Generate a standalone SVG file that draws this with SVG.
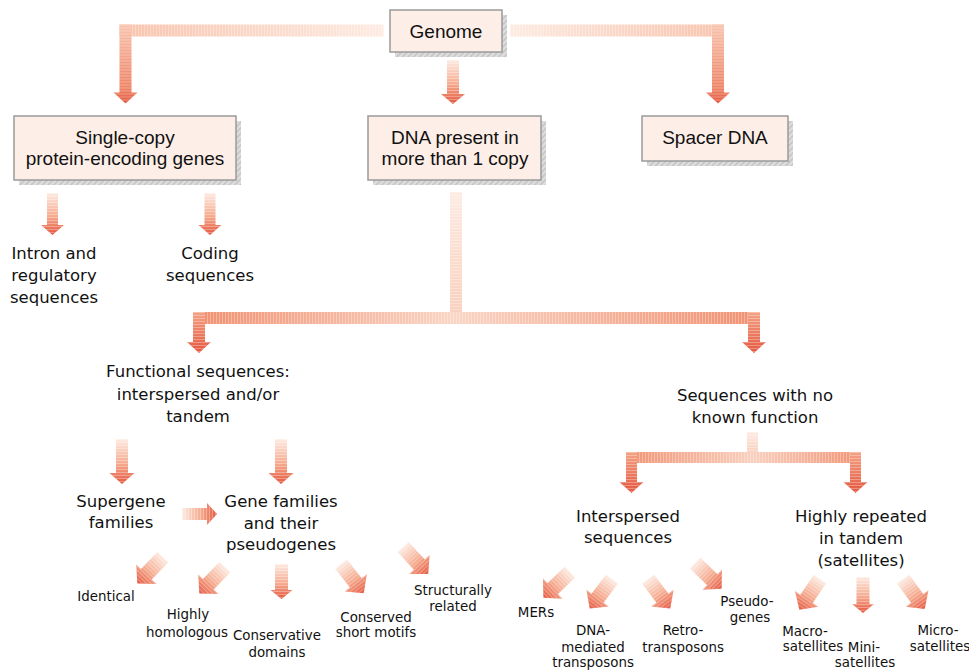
<svg xmlns="http://www.w3.org/2000/svg" xmlns:xlink="http://www.w3.org/1999/xlink" width="969" height="670" viewBox="0 0 969 670">
<style>
.box{fill:#fdeee7;stroke:#9a9a9a;stroke-width:1.5}
.shadow{fill:url(#hatch)}
.bt{font-family:"Liberation Sans",Arial,sans-serif;font-size:19px;fill:#111;text-anchor:middle}
.lb{font-family:"DejaVu Sans",Verdana,sans-serif;font-size:16.5px;fill:#111;text-anchor:middle}
.sm{font-family:"DejaVu Sans",Verdana,sans-serif;font-size:13.4px;fill:#111;text-anchor:middle}
.st{fill:url(#stH)}
.sv{fill:url(#stV)}
</style>
<defs>
<pattern id="hatch" patternUnits="userSpaceOnUse" width="4" height="4" patternTransform="rotate(45)">
<rect width="4" height="4" fill="#dedede"/><rect width="1.5" height="4" fill="#c2c2c2"/>
</pattern>
<pattern id="stH" patternUnits="userSpaceOnUse" width="4" height="3"><rect width="4" height="1" fill="#fff" fill-opacity="0.3"/></pattern>
<pattern id="stV" patternUnits="userSpaceOnUse" width="3" height="4"><rect width="1" height="4" fill="#fff" fill-opacity="0.3"/></pattern>
<linearGradient id="gDown" x1="0" y1="0" x2="0" y2="1">
<stop offset="0" stop-color="#fdebe2"/><stop offset="0.55" stop-color="#f5aa8e"/><stop offset="1" stop-color="#e4573f"/>
</linearGradient>
<linearGradient id="gLow" x1="0" y1="0" x2="0" y2="1">
<stop offset="0" stop-color="#f4a386"/><stop offset="1" stop-color="#e4573f"/>
</linearGradient>
<linearGradient id="gTopV" x1="0" y1="0" x2="0" y2="1">
<stop offset="0" stop-color="#f8c4ae"/><stop offset="0.8" stop-color="#ee8466"/><stop offset="1" stop-color="#e4573f"/>
</linearGradient>
<linearGradient id="gTLh" x1="1" y1="0" x2="0" y2="0">
<stop offset="0" stop-color="#fdebe2"/><stop offset="1" stop-color="#f8c4ae"/>
</linearGradient>
<linearGradient id="gTRh" x1="0" y1="0" x2="1" y2="0">
<stop offset="0" stop-color="#fdebe2"/><stop offset="1" stop-color="#f8c4ae"/>
</linearGradient>
<linearGradient id="gStub" x1="0" y1="0" x2="0" y2="1">
<stop offset="0" stop-color="#fdebe2"/><stop offset="1" stop-color="#f9d0bf"/>
</linearGradient>
<linearGradient id="gBar1" x1="0" y1="0" x2="1" y2="0">
<stop offset="0" stop-color="#f09070"/><stop offset="0.46" stop-color="#fad5c5"/><stop offset="1" stop-color="#f09070"/>
</linearGradient>
<linearGradient id="gBar2" x1="0" y1="0" x2="1" y2="0">
<stop offset="0" stop-color="#f19474"/><stop offset="0.54" stop-color="#f9d0bf"/><stop offset="1" stop-color="#f19474"/>
</linearGradient>
<path id="aTop" d="M-6 0H6V68H12L0 79L-12 68H-6Z"/>
<path id="aG" d="M-6 0H6V34H12L0 44L-12 34H-6Z"/>
<path id="aS" d="M-5.5 0H5.5V32H11.5L0 42L-11.5 32H-5.5Z"/>
<path id="aF" d="M-6 0H6V34H12.5L0 45L-12.5 34H-6Z"/>
<path id="aC" d="M-6.5 0H6.5V26H11L0 35L-11 26H-6.5Z"/>
<path id="aM" d="M-6.5 0H6.5V27H11L0 36L-11 27H-6.5Z"/>
<path id="aR" d="M-6 0H6V25H11L0 35L-11 25H-6Z"/>
<path id="aD" d="M-7.5 0H7.5V24H14L0 37L-14 24H-7.5Z"/>
<path id="aB" d="M-6 0H6V30H12L0 41L-12 30H-6Z"/>
<path id="aB2" d="M-5.5 0H5.5V30H12L0 41L-12 30H-5.5Z"/>
</defs>
<rect width="969" height="670" fill="#fff"/>

<g id="connectors">
<rect x="119.5" y="24.5" width="264" height="12" fill="url(#gTLh)"/>
<rect x="119.5" y="24.5" width="264" height="12" class="sv"/>
<g transform="translate(125.5,24.5)"><use xlink:href="#aTop" fill="url(#gTopV)"/><use xlink:href="#aTop" class="st"/></g>
<rect x="510" y="24.5" width="214" height="12" fill="url(#gTRh)"/>
<rect x="510" y="24.5" width="214" height="12" class="sv"/>
<g transform="translate(718,24.5)"><use xlink:href="#aTop" fill="url(#gTopV)"/><use xlink:href="#aTop" class="st"/></g>
<g transform="translate(453,60)"><use xlink:href="#aG" fill="url(#gDown)"/><use xlink:href="#aG" class="st"/></g>
<g transform="translate(52.5,193)"><use xlink:href="#aS" fill="url(#gDown)"/><use xlink:href="#aS" class="st"/></g>
<g transform="translate(210,193)"><use xlink:href="#aS" fill="url(#gDown)"/><use xlink:href="#aS" class="st"/></g>
<rect x="450" y="192" width="12" height="121" fill="url(#gStub)"/>
<rect x="450" y="192" width="12" height="121" class="st"/>
<rect x="193" y="312" width="567" height="12" fill="url(#gBar1)"/>
<rect x="193" y="312" width="567" height="12" class="sv"/>
<g transform="translate(199,312)"><use xlink:href="#aB" fill="url(#gLow)"/><use xlink:href="#aB" class="st"/></g>
<g transform="translate(754,312)"><use xlink:href="#aB" fill="url(#gLow)"/><use xlink:href="#aB" class="st"/></g>
<g transform="translate(122,439)"><use xlink:href="#aF" fill="url(#gDown)"/><use xlink:href="#aF" class="st"/></g>
<g transform="translate(281,439)"><use xlink:href="#aF" fill="url(#gDown)"/><use xlink:href="#aF" class="st"/></g>
<g transform="translate(182,514) rotate(-90)"><use xlink:href="#aR" fill="url(#gDown)"/><use xlink:href="#aR" class="st"/></g>
<g transform="translate(163,557) rotate(44)"><use xlink:href="#aD" fill="url(#gDown)"/><use xlink:href="#aD" class="st"/></g>
<g transform="translate(225,567) rotate(44)"><use xlink:href="#aD" fill="url(#gDown)"/><use xlink:href="#aD" class="st"/></g>
<g transform="translate(281.5,564)"><use xlink:href="#aC" fill="url(#gDown)"/><use xlink:href="#aC" class="st"/></g>
<g transform="translate(341,564) rotate(-38)"><use xlink:href="#aD" fill="url(#gDown)"/><use xlink:href="#aD" class="st"/></g>
<g transform="translate(403,547) rotate(-43)"><use xlink:href="#aD" fill="url(#gDown)"/><use xlink:href="#aD" class="st"/></g>
<rect x="747" y="432" width="11" height="21" fill="url(#gStub)"/>
<rect x="747" y="432" width="11" height="21" class="st"/>
<rect x="626" y="452" width="235" height="11" fill="url(#gBar2)"/>
<rect x="626" y="452" width="235" height="11" class="sv"/>
<g transform="translate(631.5,452)"><use xlink:href="#aB2" fill="url(#gLow)"/><use xlink:href="#aB2" class="st"/></g>
<g transform="translate(855.5,452)"><use xlink:href="#aB2" fill="url(#gLow)"/><use xlink:href="#aB2" class="st"/></g>
<g transform="translate(570,572) rotate(46)"><use xlink:href="#aD" fill="url(#gDown)"/><use xlink:href="#aD" class="st"/></g>
<g transform="translate(612,579) rotate(37)"><use xlink:href="#aD" fill="url(#gDown)"/><use xlink:href="#aD" class="st"/></g>
<g transform="translate(648,579) rotate(-37)"><use xlink:href="#aD" fill="url(#gDown)"/><use xlink:href="#aD" class="st"/></g>
<g transform="translate(695,563) rotate(-46)"><use xlink:href="#aD" fill="url(#gDown)"/><use xlink:href="#aD" class="st"/></g>
<g transform="translate(820,579) rotate(34)"><use xlink:href="#aD" fill="url(#gDown)"/><use xlink:href="#aD" class="st"/></g>
<g transform="translate(863,577)"><use xlink:href="#aM" fill="url(#gDown)"/><use xlink:href="#aM" class="st"/></g>
<g transform="translate(903,579) rotate(-36)"><use xlink:href="#aD" fill="url(#gDown)"/><use xlink:href="#aD" class="st"/></g>
</g>

<g id="genome">
<rect class="shadow" x="395" y="15" width="112" height="42"/>
<rect class="box" x="390" y="10" width="112" height="42"/>
<text class="bt" x="446" y="38">Genome</text>
</g>
<g id="single-copy">
<rect class="shadow" x="19" y="121" width="222" height="64"/>
<rect class="box" x="14" y="116" width="222" height="64"/>
<text class="bt" x="125" y="144">Single-copy</text>
<text class="bt" x="125" y="165">protein-encoding genes</text>
</g>
<g id="dna-present">
<rect class="shadow" x="373" y="121" width="173" height="64"/>
<rect class="box" x="368" y="116" width="173" height="64"/>
<text class="bt" x="455" y="144">DNA present in</text>
<text class="bt" x="455" y="165">more than 1 copy</text>
</g>
<g id="spacer">
<rect class="shadow" x="647" y="121" width="146" height="45"/>
<rect class="box" x="642" y="116" width="146" height="45"/>
<text class="bt" x="715" y="144">Spacer DNA</text>
</g>

<g id="intron"><text class="lb" x="54" y="259">Intron and</text><text class="lb" x="54" y="281">regulatory</text><text class="lb" x="54" y="303">sequences</text></g>
<g id="coding"><text class="lb" x="210" y="259">Coding</text><text class="lb" x="210" y="281">sequences</text></g>
<g id="functional"><text class="lb" x="198" y="377">Functional sequences:</text><text class="lb" x="198" y="400">interspersed and/or</text><text class="lb" x="198" y="422">tandem</text></g>
<g id="no-function"><text class="lb" x="755" y="401">Sequences with no</text><text class="lb" x="755" y="423">known function</text></g>
<g id="supergene"><text class="lb" x="121" y="507">Supergene</text><text class="lb" x="121" y="528">families</text></g>
<g id="gene-families"><text class="lb" x="281" y="507">Gene families</text><text class="lb" x="281" y="529">and their</text><text class="lb" x="281" y="550">pseudogenes</text></g>
<g id="interspersed"><text class="lb" x="628" y="522">Interspersed</text><text class="lb" x="628" y="543">sequences</text></g>
<g id="satellites"><text class="lb" x="861" y="522">Highly repeated</text><text class="lb" x="861" y="544">in tandem</text><text class="lb" x="861" y="566">(satellites)</text></g>

<g id="identical"><text class="sm" x="106" y="601">Identical</text></g>
<g id="highly-homologous"><text class="sm" x="188" y="619">Highly</text><text class="sm" x="187" y="637">homologous</text></g>
<g id="conservative-domains"><text class="sm" x="277" y="640">Conservative</text><text class="sm" x="277" y="657">domains</text></g>
<g id="conserved-motifs"><text class="sm" x="376" y="622">Conserved</text><text class="sm" x="376" y="637">short motifs</text></g>
<g id="structurally"><text class="sm" x="453" y="595">Structurally</text><text class="sm" x="453" y="611">related</text></g>
<g id="mers"><text class="sm" x="536" y="617">MERs</text></g>
<g id="dna-mediated"><text class="sm" x="593" y="635">DNA-</text><text class="sm" x="593" y="652">mediated</text><text class="sm" x="593" y="667">transposons</text></g>
<g id="retro"><text class="sm" x="683" y="635">Retro-</text><text class="sm" x="683" y="652">transposons</text></g>
<g id="pseudogenes"><text class="sm" x="747" y="606">Pseudo-</text><text class="sm" x="750" y="622">genes</text></g>
<g id="macro"><text class="sm" x="805" y="636">Macro-</text><text class="sm" x="813" y="651">satellites</text></g>
<g id="mini"><text class="sm" x="864" y="652">Mini-</text><text class="sm" x="865" y="667">satellites</text></g>
<g id="micro"><text class="sm" x="938" y="635">Micro-</text><text class="sm" x="940" y="651">satellites</text></g>
</svg>
